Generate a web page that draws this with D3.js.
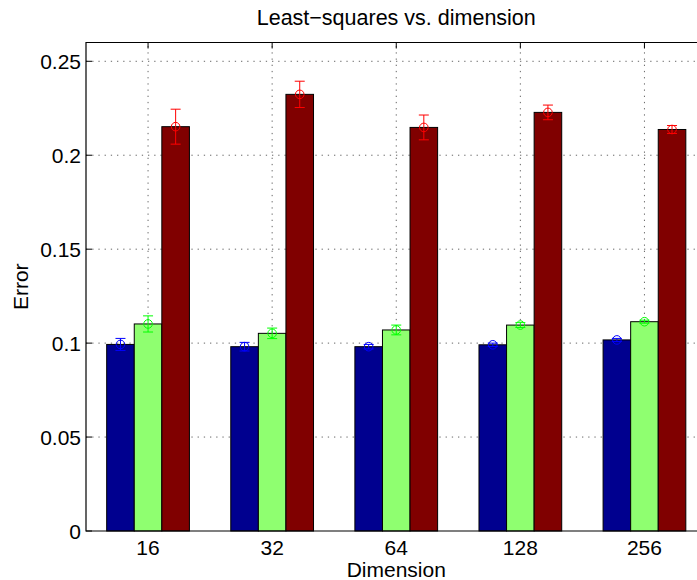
<!DOCTYPE html>
<html>
<head>
<meta charset="utf-8">
<script src="https://cdn.jsdelivr.net/npm/d3@7"></script>
<style>
    body { margin: 0; background: white; }
    text { font-family: "Liberation Sans", Arial, Helvetica, sans-serif; fill: black; }
</style>
</head>
<body>
<div id="chart"></div>
<script>
// Data
var dimensions = ["16", "32", "64", "128", "256"];
var seriesNames = ["method1", "method2", "method3"];
var blueMeans = [0.0993, 0.0981, 0.0981, 0.0991, 0.1017];
var blueErrors = [0.0032, 0.0023, 0.0012, 0.0009, 0.0008];
var greenMeans = [0.1102, 0.1052, 0.1070, 0.1096, 0.1114];
var greenErrors = [0.0043, 0.0028, 0.0026, 0.0013, 0.0008];
var redMeans = [0.2152, 0.2324, 0.2148, 0.2228, 0.2137];
var redErrors = [0.0093, 0.0070, 0.0066, 0.0039, 0.0021];
var yTicks = [0, 0.05, 0.1, 0.15, 0.2, 0.25];

var barColors = ["#00008f", "#8fff70", "#800000"];
var errColors = ["#0000ff", "#00ff00", "#ff0000"];

var means = [blueMeans, greenMeans, redMeans];
var errors = [blueErrors, greenErrors, redErrors];

// flat table of bars
var bars = [];
seriesNames.forEach(function(s, si) {
    dimensions.forEach(function(dim, di) {
        bars.push({ series: si, idx: di, value: means[si][di], err: errors[si][di] });
    });
});

var width = 697;
var height = 580;
var margin = { top: 42.5, left: 86, bottom: 49 };
var plotRight = 706.5; // axes runs past the window edge

var svg = d3.select("#chart")
    .append("svg")
    .attr("width", width)
    .attr("height", height);

var xScale = d3.scaleLinear()
    .domain([0.5, dimensions.length + 0.5])
    .range([margin.left, plotRight]);

var yScale = d3.scaleLinear()
    .domain([0, 0.26])
    .range([height - margin.bottom, margin.top]);

var groupWidth = Math.min(0.8, 3 / (3 + 1.5));
var barW = groupWidth / 3;

// dotted grid
svg.append("g")
    .selectAll("line")
    .data(yTicks.slice(1))
    .enter()
    .append("line")
    .attr("x1", xScale(0.5))
    .attr("x2", plotRight)
    .attr("y1", function(d) { return yScale(d); })
    .attr("y2", function(d) { return yScale(d); })
    .attr("stroke", "#666")
    .attr("stroke-width", 1)
    .attr("stroke-dasharray", "1.3,4.9");

svg.append("g")
    .selectAll("line")
    .data(dimensions)
    .enter()
    .append("line")
    .attr("x1", function(d, i) { return xScale(i + 1); })
    .attr("x2", function(d, i) { return xScale(i + 1); })
    .attr("y1", yScale(0))
    .attr("y2", yScale(0.26))
    .attr("stroke", "#666")
    .attr("stroke-width", 1)
    .attr("stroke-dasharray", "1.3,4.9");

// inward ticks
svg.append("g")
    .selectAll("line")
    .data(yTicks)
    .enter()
    .append("line")
    .attr("x1", xScale(0.5))
    .attr("x2", xScale(0.5) + 6)
    .attr("y1", function(d) { return yScale(d); })
    .attr("y2", function(d) { return yScale(d); })
    .attr("stroke", "black");

svg.append("g")
    .selectAll("line")
    .data(dimensions)
    .enter()
    .append("line")
    .attr("x1", function(d, i) { return xScale(i + 1); })
    .attr("x2", function(d, i) { return xScale(i + 1); })
    .attr("y1", yScale(0.26))
    .attr("y2", yScale(0.26) + 6)
    .attr("stroke", "black");

// bars
svg.append("g")
    .selectAll("rect")
    .data(bars)
    .enter()
    .append("rect")
    .attr("x", function(d) { return xScale(d.idx + 1 + (d.series - 1.5) * barW); })
    .attr("width", xScale(barW) - xScale(0))
    .attr("y", function(d) { return yScale(d.value); })
    .attr("height", function(d) { return yScale(0) - yScale(d.value); })
    .attr("fill", function(d) { return barColors[d.series]; })
    .attr("stroke", "black")
    .attr("stroke-width", 1);

// error bars
var eb = svg.append("g")
    .selectAll("g")
    .data(bars)
    .enter()
    .append("g")
    .attr("stroke", function(d) { return errColors[d.series]; })
    .attr("fill", "none")
    .attr("stroke-width", 1);

function cx(d) { return xScale(d.idx + 1 + (d.series - 1) * barW); }

eb.append("line")
    .attr("x1", cx).attr("x2", cx)
    .attr("y1", function(d) { return yScale(d.value + d.err); })
    .attr("y2", function(d) { return yScale(d.value - d.err); });

eb.append("line")
    .attr("x1", function(d) { return cx(d) - 5; })
    .attr("x2", function(d) { return cx(d) + 5; })
    .attr("y1", function(d) { return yScale(d.value + d.err); })
    .attr("y2", function(d) { return yScale(d.value + d.err); });

eb.append("line")
    .attr("x1", function(d) { return cx(d) - 5; })
    .attr("x2", function(d) { return cx(d) + 5; })
    .attr("y1", function(d) { return yScale(d.value - d.err); })
    .attr("y2", function(d) { return yScale(d.value - d.err); });

eb.append("circle")
    .attr("cx", cx)
    .attr("cy", function(d) { return yScale(d.value); })
    .attr("r", 4.3);

// axes frame
svg.append("path")
    .attr("d", "M" + plotRight + "," + yScale(0.26) + "H" + xScale(0.5) + "V" + yScale(0) + "H" + plotRight)
    .attr("fill", "none")
    .attr("stroke", "black")
    .attr("stroke-width", 1.2);

// tick labels
svg.append("g")
    .selectAll("text")
    .data(yTicks)
    .enter()
    .append("text")
    .attr("x", 81)
    .attr("y", function(d) { return yScale(d); })
    .attr("dy", "0.36em")
    .attr("text-anchor", "end")
    .style("font-size", "21px")
    .text(function(d) { return d3.format("")(d); });

svg.append("g")
    .selectAll("text")
    .data(dimensions)
    .enter()
    .append("text")
    .attr("x", function(d, i) { return xScale(i + 1); })
    .attr("y", 555)
    .attr("text-anchor", "middle")
    .style("font-size", "21px")
    .text(function(d) { return d; });

svg.append("text")
    .attr("x", (xScale(0.5) + plotRight) / 2)
    .attr("y", 577)
    .attr("text-anchor", "middle")
    .style("font-size", "21px")
    .text("Dimension");

svg.append("text")
    .attr("transform", "translate(28," + (yScale(0.13)) + ") rotate(-90)")
    .attr("text-anchor", "middle")
    .style("font-size", "21px")
    .text("Error");

svg.append("text")
    .attr("x", (xScale(0.5) + plotRight) / 2)
    .attr("y", 25)
    .attr("text-anchor", "middle")
    .style("font-size", "21.5px")
    .text("Least\u2212squares vs. dimension");
</script>
</body>
</html>
